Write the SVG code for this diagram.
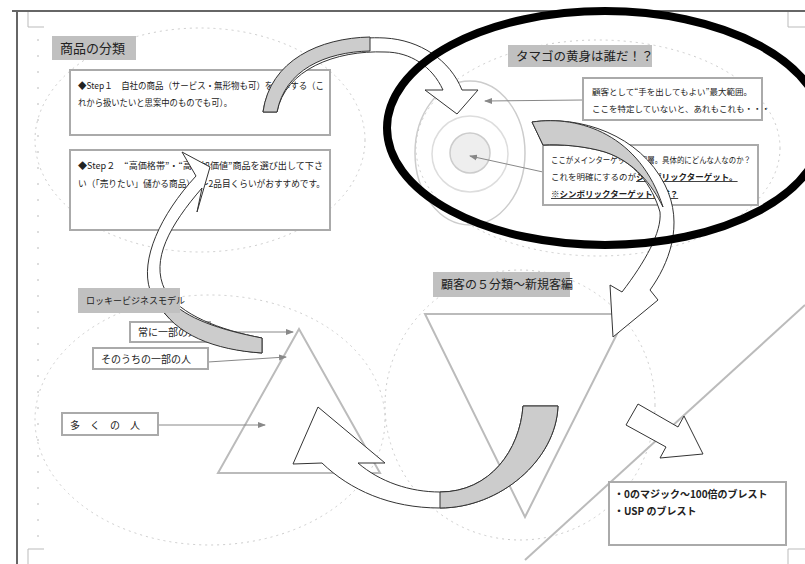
<svg xmlns="http://www.w3.org/2000/svg" width="805" height="564" viewBox="0 0 805 564">
<style>
.t{font-family:"Noto Sans CJK JP","Liberation Sans",sans-serif;fill:#222}
.lbl{fill:#c0c0c0;stroke:none}
.box{fill:#fff;stroke:#aaa;stroke-width:2}
.dash{fill:none;stroke:#ccc;stroke-width:1;stroke-dasharray:2 4}
.tri{fill:none;stroke:#bbb;stroke-width:2}
.con{stroke:#888;stroke-width:1;fill:none}
.arr{fill:#fff;stroke:#333;stroke-width:1}
.gr{fill:#ccc;stroke:#333;stroke-width:1}
.tick{stroke:#bbb;stroke-width:1}
</style>
<defs>
<marker id="ah" markerWidth="8" markerHeight="8" refX="7" refY="4" orient="auto" markerUnits="userSpaceOnUse"><path d="M0,1 L8,4 L0,7 Z" fill="#888"/></marker>
</defs>
<rect width="805" height="564" fill="#fff"/>
<g id="page">
<line x1="12" y1="11" x2="805" y2="11" stroke="#666" stroke-width="2"/>
<line x1="17" y1="11" x2="17" y2="564" stroke="#666" stroke-width="2"/>
<path d="M28,12 V27 H44" fill="none" stroke="#bbb"/>
<path d="M805,27 H788 V12" fill="none" stroke="#bbb"/>
<path d="M28,564 V549 H44" fill="none" stroke="#bbb"/>
<path d="M805,549 H788 V564" fill="none" stroke="#bbb"/>
<path class="tick" d="M37,40h2M37,56h2M37,72h2M37,88h2M37,104h2M37,120h2M37,136h2M37,152h2M37,168h2M37,184h2M37,200h2M37,216h2M37,232h2M37,248h2M37,264h2M37,280h2M37,296h2M37,312h2M37,328h2M37,344h2M37,360h2M37,376h2M37,392h2M37,408h2M37,424h2M37,440h2M37,456h2M37,472h2M37,488h2M37,504h2M37,520h2M37,536h2"/>
</g>
<g id="guides">
<ellipse class="dash" cx="200" cy="140" rx="165" ry="112"/>
<ellipse class="dash" cx="210" cy="420" rx="175" ry="125"/>
<ellipse class="dash" cx="520" cy="405" rx="135" ry="135"/>
<ellipse class="dash" cx="598" cy="148" rx="182" ry="108"/>
<polygon class="tri" points="299,329 218,473 380,473"/>
<polygon class="tri" points="425,314 627,314 525,517"/>
<line x1="805" y1="305" x2="525" y2="560" stroke="#bbb" stroke-width="2"/>
</g>
<g id="egg">
<ellipse cx="470" cy="153" rx="55" ry="72" fill="none" stroke="#ccc" stroke-width="1.5"/>
<circle cx="470" cy="154" r="38" fill="none" stroke="#ddd" stroke-width="1.5"/>
<circle cx="470" cy="153" r="20" fill="#eee" stroke="#ccc" stroke-width="1.5"/>
</g>
<g id="connectors">
<line class="con" x1="583" y1="100" x2="485" y2="101" marker-end="url(#ah)"/>
<line class="con" x1="543" y1="172" x2="470" y2="156" marker-end="url(#ah)"/>
<line class="con" x1="210" y1="332" x2="293" y2="332" marker-end="url(#ah)"/>
<line class="con" x1="208" y1="362" x2="286" y2="357" marker-end="url(#ah)"/>
<line class="con" x1="158" y1="425" x2="265" y2="425" marker-end="url(#ah)"/>
</g>
<g id="n-bunrui">
<rect class="lbl" x="52" y="36" width="84" height="24"/>
<text class="t" x="60" y="53" font-size="13">商品の分類</text>
</g>
<g id="n-step1">
<rect class="box" x="70" y="70" width="260" height="65"/>
<text class="t" x="78" y="89" font-size="9" textLength="246" lengthAdjust="spacingAndGlyphs">◆Step１　自社の商品（サービス・無形物も可）を列挙する（こ</text>
<text class="t" x="78" y="106" font-size="9" textLength="154" lengthAdjust="spacingAndGlyphs">れから扱いたいと思案中のものでも可）。</text>
</g>
<g id="n-step2">
<rect class="box" x="70" y="150" width="260" height="80"/>
<text class="t" x="78" y="169" font-size="9" textLength="245" lengthAdjust="spacingAndGlyphs">◆Step２　“高価格帯”・“高付加価値”商品を選び出して下さ</text>
<text class="t" x="78" y="187" font-size="9" textLength="247" lengthAdjust="spacingAndGlyphs">い（「売りたい」儲かる商品）1～2品目くらいがおすすめです。</text>
</g>
<g id="n-tamago">
<rect class="lbl" x="508" y="45" width="144" height="22"/>
<text class="t" x="516" y="61" font-size="12.5">タマゴの黄身は誰だ！？</text>
</g>
<g id="n-max">
<rect class="box" x="583" y="78" width="179" height="42"/>
<text class="t" x="592" y="95" font-size="8.5">顧客として“手を出してもよい”最大範囲。</text>
<text class="t" x="592" y="112" font-size="8.5">ここを特定していないと、あれもこれも・・・</text>
</g>
<g id="n-main">
<rect class="box" x="543" y="145" width="215" height="60"/>
<text class="t" x="551" y="163" font-size="8.5" textLength="200" lengthAdjust="spacingAndGlyphs">ここがメインターゲット顧客層。具体的にどんな人なのか？</text>
<text class="t" x="551" y="180" font-size="8.5">これを明確にするのが<tspan font-weight="bold" text-decoration="underline">シンボリックターゲット。</tspan></text>
<text class="t" x="551" y="197" font-size="8.5" font-weight="bold" text-decoration="underline">※シンボリックターゲットは誰？</text>
</g>
<g id="n-tsune">
<rect class="box" x="130" y="322" width="80" height="20"/>
<text class="t" x="138" y="336" font-size="10">常に一部の人</text>
</g>
<g id="n-sono">
<rect class="box" x="93" y="348" width="115" height="21"/>
<text class="t" x="101" y="363" font-size="10">そのうちの一部の人</text>
</g>
<g id="n-ooku">
<rect class="box" x="62" y="413" width="96" height="22"/>
<text class="t" x="70" y="429" font-size="10" letter-spacing="10">多くの人</text>
</g>
<g id="n-kokyaku">
<rect class="lbl" x="433" y="272" width="137" height="25"/>
<text class="t" x="441" y="289" font-size="12">顧客の５分類～新規客編</text>
</g>
<g id="n-brest">
<rect class="box" x="609" y="482" width="177" height="63"/>
<text class="t" x="614" y="498" font-size="10" font-weight="bold">・0のマジック～100倍のブレスト</text>
<text class="t" x="614" y="515" font-size="10" font-weight="bold">・USP のブレスト</text>
</g>
<g id="big-arrows">
<path class="arr" d="M263,112 C270,60 330,35 385,38 C420,40 450,60 462,90 L478,90 L457,114 L425,90 L443,90 C432,66 410,52 385,52 C335,50 285,70 277,112 Z"/>
<path class="gr" d="M263,112 C270,60 320,38 370,37 L370,51 C325,52 285,70 277,112 Z"/>
<path class="arr" d="M262,338 C220,330 180,315 165,290 C150,260 170,225 202,188 L197,212 L210,167 L182,152 L196,176 C160,215 140,260 150,290 C165,330 215,350 262,353 Z"/>
<path class="gr" d="M262,338 C220,330 185,318 170,300 L158,303 C175,335 215,350 262,353 Z"/>
<path class="arr" d="M532,122 C580,115 640,135 665,185 C685,225 668,265 650,290 L658,300 L613,337 L610,285 L622,292 C645,262 662,232 660,212 C652,185 635,162 605,152 C585,146 560,144 543,145 Z"/>
<path class="gr" d="M532,122 C580,115 640,135 663,207 C652,185 635,162 605,152 C585,146 560,144 543,145 Z"/>
<path class="arr" d="M558,406 C556,460 500,508 440,508 C390,508 350,490 322,463 L293,464 L318,407 L385,463 L358,463 C380,482 410,492 440,492 C490,492 520,450 523,406 Z"/>
<path class="gr" d="M558,406 C556,460 500,508 440,508 L440,492 C490,492 520,450 523,406 Z"/>
<path class="arr" d="M638,404 L678,427 L684,416 L703,454 L660,458 L666,447 L626,425 Z"/>
</g>
<g id="n-rocky">
<rect class="lbl" x="78" y="288" width="102" height="25"/>
<text class="t" x="86" y="304" font-size="9">ロッキービジネスモデル</text>
</g>
<g id="circle-mark">
<ellipse cx="605" cy="128" rx="218" ry="117" fill="none" stroke="#000" stroke-width="8"/>
</g>
</svg>
